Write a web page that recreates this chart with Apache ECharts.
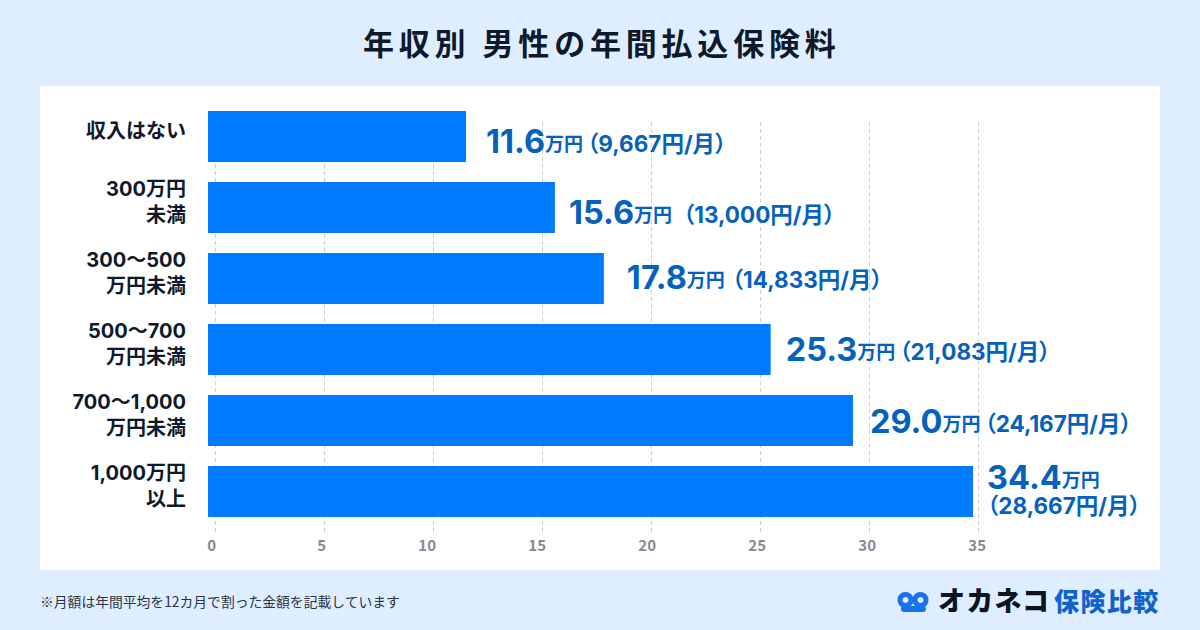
<!DOCTYPE html>
<html lang="ja">
<head>
<meta charset="utf-8">
<title>年収別 男性の年間払込保険料</title>
<style>
html,body{margin:0;padding:0;background:#DEEDFF}
#chart{width:1200px;height:630px}
#chart text[style*="31px"]{letter-spacing:4.8px}
#chart text[style*="27px"]{letter-spacing:1.2px}
#chart text[style*="25px"]{letter-spacing:1.4px}
#chart text[style*="22.5px"]{font-feature-settings:"palt"}
</style>
<script src="https://cdn.jsdelivr.net/npm/echarts@6/dist/echarts.min.js"></script>
</head>
<body>
<div id="chart"></div>
<script>
const titleText = '年収別 男性の年間払込保険料';
const footnote = '※月額は年間平均を12カ月で割った金額を記載しています';
const categories = ['収入はない', '300万円\n未満', '300〜500\n万円未満', '500〜700\n万円未満', '700〜1,000\n万円未満', '1,000万円\n以上'];
const annualPremium = [11.6, 15.6, 17.8, 25.3, 29.0, 34.4];
const monthlyPremium = ['9,667', '13,000', '14,833', '21,083', '24,167', '28,667'];
const tickValues = [0, 5, 10, 15, 20, 25, 30, 35];

const labelNudge = [[20, 6], [14, 6], [23, 0], [15, 1], [17, 2], [14, 0]];
const parenGap = [4, 11, 7, 4, 4, 0];
const CJK = "Inter, 'Noto Sans CJK JP', sans-serif";
const INK = '#0E1A2B', BLUE = '#0561BE';

const chart = echarts.init(document.getElementById('chart'), null, {renderer: 'svg', width: 1200, height: 630});

const richFor = gap => ({
  big: {fontSize: 32.5, fontWeight: 'bold', color: BLUE, fontFamily: CJK, lineHeight: 30, verticalAlign: 'bottom'},
  unit: {fontSize: 19, fontWeight: 'bold', color: BLUE, fontFamily: CJK, lineHeight: 22, verticalAlign: 'bottom', padding: [0, 0, 4, 0]},
  sub: {fontSize: 22.5, fontWeight: 'bold', color: BLUE, fontFamily: CJK, lineHeight: 26, verticalAlign: 'bottom', padding: [0, 0, 3, gap]}
});

chart.setOption({
  backgroundColor: '#DEEDFF',
  animation: false,
  textStyle: {fontFamily: CJK},
  title: {
    text: titleText, left: 358, top: 23,
    textStyle: {fontFamily: CJK, fontSize: 31, fontWeight: 'bold', color: INK}
  },
  graphic: [
    {type: 'rect', z: -10, shape: {x: 40, y: 86, width: 1120, height: 484}, style: {fill: '#fff'}},
    {type: 'text', left: 40, top: 594, style: {text: footnote, font: "400 13.8px 'Noto Sans CJK JP'", fill: '#2B3440'}},
    {type: 'circle', shape: {cx: 905.5, cy: 600, r: 5.5}, style: {fill: 'none', stroke: '#1A72E8', lineWidth: 5}},
    {type: 'circle', shape: {cx: 920.5, cy: 600, r: 5.5}, style: {fill: 'none', stroke: '#1A72E8', lineWidth: 5}},
    {type: 'rect', shape: {x: 901, y: 606, width: 25, height: 6, r: 3}, style: {fill: '#1A72E8'}},
    {type: 'text', left: 938, top: 586, style: {text: 'オカネコ', font: "900 27px 'Noto Sans CJK JP'", fill: '#0B1420'}},
    {type: 'text', left: 1054, top: 587, style: {text: '保険比較', font: "900 25px 'Noto Sans CJK JP'", fill: '#1163CC'}}
  ],
  grid: [
    {left: 215.5, top: 122, width: 763, height: 411},
    {left: 208, top: 101, width: 889.6, height: 426},
    {left: 216, top: 122, width: 770, height: 406},
    {left: 208, top: 95, width: 889.6, height: 426}
  ],
  xAxis: [
    {
      type: 'value', gridIndex: 0, min: 0, max: 35, interval: 5,
      axisLine: {show: false}, axisTick: {show: false}, axisLabel: {show: false},
      splitLine: {show: true, lineStyle: {color: '#CFCFCF', width: 1, type: [4, 3]}}
    },
    {type: 'value', gridIndex: 1, min: 0, max: 40, show: false, splitLine: {show: false}},
    {
      type: 'value', gridIndex: 2, min: 0, max: 35, interval: 5,
      axisLine: {show: false}, axisTick: {show: false}, splitLine: {show: false},
      axisLabel: {
        margin: 9, fontSize: 15, fontWeight: 'bold', color: '#858A91', fontFamily: "'Noto Sans CJK JP'",
        align: 'right', customValues: tickValues
      }
    },
    {type: 'value', gridIndex: 3, min: 0, max: 40, show: false, splitLine: {show: false}}
  ],
  yAxis: [
    {type: 'value', gridIndex: 0, show: false, splitLine: {show: false}},
    {
      type: 'category', gridIndex: 1, data: categories, inverse: true,
      axisLine: {show: false}, axisTick: {show: false}, axisLabel: {show: false}
    },
    {type: 'value', gridIndex: 2, show: false, splitLine: {show: false}},
    {
      type: 'category', gridIndex: 3, data: categories, inverse: true,
      axisLine: {show: false}, axisTick: {show: false},
      axisLabel: {margin: 22, fontSize: 20, fontWeight: 'bold', color: INK, lineHeight: 26, align: 'right', fontFamily: CJK}
    }
  ],
  series: [{
    type: 'bar', xAxisIndex: 1, yAxisIndex: 1, z: 3,
    barWidth: 51,
    itemStyle: {color: '#007BFF'},
    data: annualPremium.map((v, i) => ({
      value: v,
      label: {offset: labelNudge[i], rich: richFor(parenGap[i])}
    })),
    label: {
      show: true, position: 'right', distance: 0,
      formatter: p => {
        const big = p.value.toFixed(1), m = monthlyPremium[p.dataIndex];
        const sep = p.dataIndex === annualPremium.length - 1 ? '\n' : '';
        return `{big|${big}}{unit|万円}${sep}{sub|（${m}円/月）}`;
      },
      rich: richFor(0)
    }
  }]
});
</script>
</body>
</html>
